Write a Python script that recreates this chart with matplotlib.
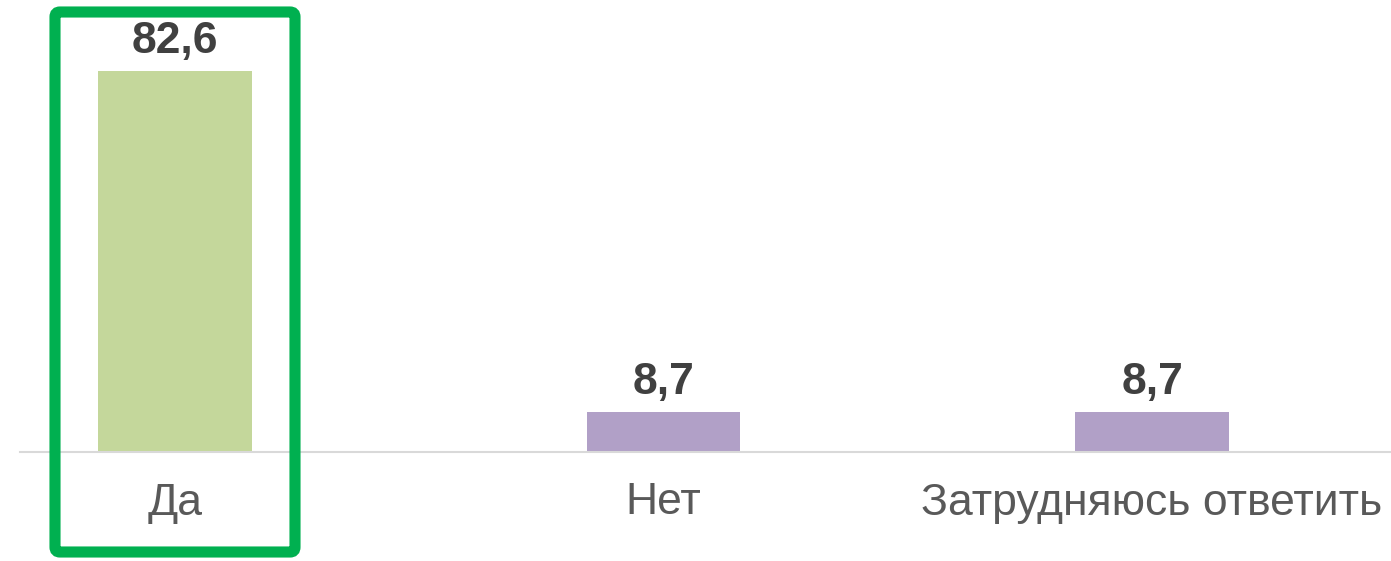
import matplotlib
matplotlib.use("Agg")
import matplotlib.pyplot as plt
from matplotlib.patches import FancyBboxPatch

plt.rcParams['font.family'] = ['Liberation Sans', 'DejaVu Sans']

categories = ['Да', 'Нет', 'Затрудняюсь ответить']
values = [82.6, 8.7, 8.7]
value_labels = ['82,6', '8,7', '8,7']
bar_colors = ['#C4D79B', '#B1A0C7', '#B1A0C7']

W, H = 1391, 561
fig = plt.figure(figsize=(W / 100, H / 100), dpi=100)
fig.patch.set_facecolor('white')

# main plot area: baseline at y=452 px from the top
ax = fig.add_axes([20 / W, 1 - 452 / H, 1 - 20 / W, 452 / H])
ax.set_facecolor('none')
x = list(range(len(categories)))
ax.bar(x, values, width=0.315, color=bar_colors, zorder=2)
ax.set_xlim(-0.317, 2.489)
ax.set_ylim(0, 98)

for s in ['top', 'right', 'left']:
    ax.spines[s].set_visible(False)
ax.spines['bottom'].set_color('#D9D9D9')
ax.spines['bottom'].set_linewidth(1.5)
ax.set_yticks([])
ax.set_xticks([])

for xi, v, lab in zip(x, values, value_labels):
    ax.annotate(lab, (xi, v), xytext=(0, 13), textcoords='offset points',
                ha='center', va='baseline', fontsize=32, fontweight='bold',
                color='#404040')

for xi, cat in zip(x, categories):
    ax.annotate(cat, (xi, 0), xytext=(0, -45), textcoords='offset points',
                ha='center', va='baseline', fontsize=32, color='#595959',
                annotation_clip=False)

# highlight frame around the first column, in pixel coordinates
over = fig.add_axes([0, 0, 1, 1])
over.set_xlim(0, W)
over.set_ylim(H, 0)
over.axis('off')
over.patch.set_alpha(0)
frame = FancyBboxPatch((55, 12), 240, 540, boxstyle='round,pad=0,rounding_size=5',
                       fill=False, edgecolor='#00B050', linewidth=8)
over.add_patch(frame)

fig.savefig('out.png', dpi=100)
